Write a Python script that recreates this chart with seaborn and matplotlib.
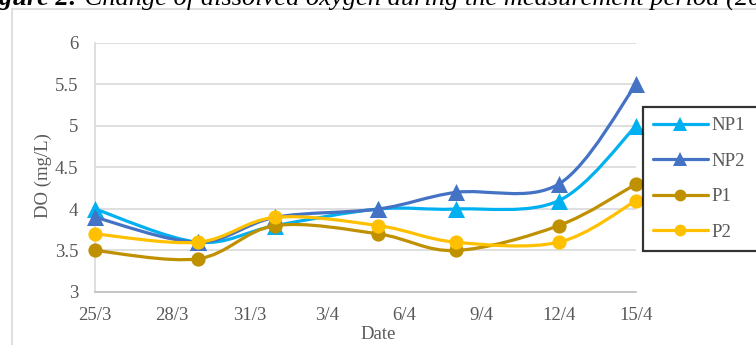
import numpy as np
import pandas as pd
import matplotlib
matplotlib.use("Agg")
import matplotlib.pyplot as plt
import matplotlib.dates as mdates
from matplotlib.path import Path
from matplotlib.patches import PathPatch
from matplotlib.lines import Line2D
import seaborn as sns

# Measurement dates (day/month) and dissolved oxygen readings (mg/L)
dates = ["25/3", "29/3", "1/4", "5/4", "8/4", "12/4", "15/4"]
np1 = [4.0, 3.6, 3.8, 4.0, 4.0, 4.1, 5.0]
np2 = [3.9, 3.6, 3.9, 4.0, 4.2, 4.3, 5.5]
p1 = [3.5, 3.4, 3.8, 3.7, 3.5, 3.8, 4.3]
p2 = [3.7, 3.6, 3.9, 3.8, 3.6, 3.6, 4.1]
series_names = ["NP1", "NP2", "P1", "P2"]
tick_labels = ["25/3", "28/3", "31/3", "3/4", "6/4", "9/4", "12/4", "15/4"]
y_ticks = [3, 3.5, 4, 4.5, 5, 5.5, 6]

colors = {"NP1": "#00B0F0", "NP2": "#4472C4", "P1": "#BF9000", "P2": "#FFC000"}
markers = {"NP1": "^", "NP2": "^", "P1": "o", "P2": "o"}
msize = {"NP1": 150, "NP2": 150, "P1": 105, "P2": 105}

sns.set_style("white")
plt.rcParams["font.family"] = ["Liberation Serif", "DejaVu Serif"]
TXT = "#595959"
GRID = "#D9D9D9"
FS = 13.5

x_num = mdates.date2num(pd.to_datetime(dates, format="%d/%m"))
tick_pos = mdates.date2num(pd.to_datetime(tick_labels, format="%d/%m"))

values = {"NP1": np1, "NP2": np2, "P1": p1, "P2": p2}
df = pd.concat(
    [pd.DataFrame({"x": x_num, "DO": values[s], "series": s}) for s in series_names],
    ignore_index=True,
)


def smooth_path(xs, ys):
    """Cubic Bezier through every point (Catmull-Rom style tangents)."""
    pts = np.column_stack([xs, ys]).astype(float)
    n = len(pts)
    verts = [pts[0]]
    codes = [Path.MOVETO]
    for i in range(n - 1):
        q0 = pts[max(i - 1, 0)]
        q1 = pts[i]
        q2 = pts[i + 1]
        q3 = pts[min(i + 2, n - 1)]
        verts += [q1 + (q2 - q0) / 6.0, q2 - (q3 - q1) / 6.0, q2]
        codes += [Path.CURVE4] * 3
    return Path(verts, codes)


fig = plt.figure(figsize=(7.56, 3.45), dpi=100)
ax = fig.add_axes([95 / 756, 1 - 292 / 345, 541 / 756, 249 / 345])

for k, s in enumerate(series_names):
    sub = df[df["series"] == s]
    ax.add_patch(PathPatch(smooth_path(sub["x"], sub["DO"]), facecolor="none",
                           edgecolor=colors[s], lw=2.3, capstyle="round",
                           joinstyle="round", zorder=3 + 2 * k))
    sns.scatterplot(data=sub, x="x", y="DO", ax=ax, color=colors[s],
                    marker=markers[s], s=msize[s], linewidth=0,
                    legend=False, zorder=4 + 2 * k, clip_on=False)

ax.set_xlim(tick_pos[0], tick_pos[-1])
ax.set_ylim(3, 6)
ax.set_xticks(tick_pos)
ax.set_xticklabels(tick_labels)
ax.set_yticks(y_ticks)
ax.set_yticklabels([f"{v:g}" for v in y_ticks])
ax.tick_params(axis="both", length=0, labelsize=FS, colors=TXT)
ax.tick_params(axis="x", pad=11)
ax.tick_params(axis="y", pad=12)
ax.yaxis.grid(True, color=GRID, lw=1.2)
ax.set_axisbelow(True)
for side in ["top", "right"]:
    ax.spines[side].set_visible(False)
ax.spines["bottom"].set_color("#BFBFBF")
ax.spines["bottom"].set_linewidth(1.2)
ax.spines["left"].set_color(GRID)
ax.spines["left"].set_linewidth(1.2)

ax.set_xlabel("Date", fontsize=FS, color=TXT)
ax.xaxis.set_label_coords((378 - 95) / 541, -(326 - 292) / 249)
ax.set_ylabel("")
fig.text(43.5 / 756, 1 - 176 / 345, "DO (mg/L)", rotation=90, ha="center",
         va="center", fontsize=FS, color=TXT)

# Outer chart frame
fig.add_artist(Line2D([11.5 / 756, 1.0], [1 - 9 / 345, 1 - 9 / 345],
                      transform=fig.transFigure, color=GRID, lw=1.2))
fig.add_artist(Line2D([11.5 / 756, 11.5 / 756], [0.0, 1 - 9 / 345],
                      transform=fig.transFigure, color=GRID, lw=1.2))

# Caption above the chart
ty = 1 - 5 / 345
fig.text(78 / 756, ty, "Figure 2:", ha="right", va="baseline", fontsize=19,
         fontstyle="italic", fontweight="bold", color="black")
fig.text(78 / 756, ty, " Change of dissolved oxygen during the measurement period (2020)",
         ha="left", va="baseline", fontsize=19, fontstyle="italic", color="black")

handles = [Line2D([], [], color=colors[s], lw=2.3, marker=markers[s],
                  markersize=9.5 if markers[s] == "^" else 8.5, markeredgewidth=0)
           for s in series_names]
leg = fig.legend(handles, series_names, loc="upper left",
                 bbox_to_anchor=(643 / 756, 1 - 253 / 345, 0.3, 146 / 345),
                 mode="expand", fontsize=FS, frameon=True, fancybox=False,
                 borderpad=0.53, handlelength=2.93, handletextpad=0.2,
                 labelspacing=0.98, borderaxespad=0)
leg.get_frame().set_edgecolor("black")
leg.get_frame().set_linewidth(1.6)
for t in leg.get_texts():
    t.set_color(TXT)

fig.savefig("out.png", dpi=100)
